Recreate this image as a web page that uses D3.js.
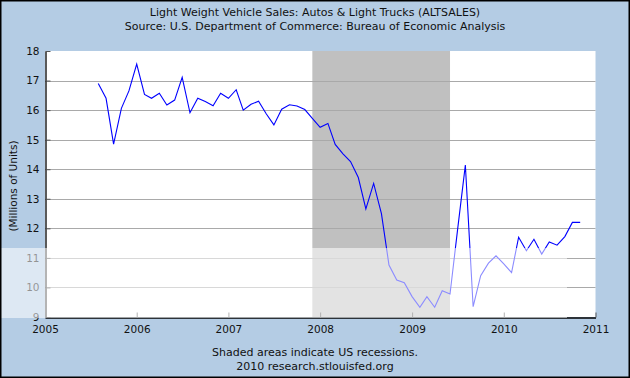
<!DOCTYPE html>
<html>
<head>
<meta charset="utf-8">
<script src="https://cdn.jsdelivr.net/npm/d3@7"></script>
<style>
  html, body { margin: 0; padding: 0; background: #fff; }
  svg { display: block; }
  text { font-family: "DejaVu Sans", Verdana, sans-serif; fill: #111; }
</style>
</head>
<body>
<svg id="chart" width="630" height="378"></svg>
<script>
// ---- data ----
const startMonth = "2005-08";
const values = [
  16.9, 16.4, 14.85, 16.06, 16.65,                                  // Aug-Dec 2005
  17.56, 16.53, 16.4, 16.57, 16.17, 16.34, 17.11, 15.91, 16.4, 16.29, 16.15, 16.57, // 2006
  16.4, 16.69, 16.0, 16.2, 16.3, 15.87, 15.5, 16.03, 16.18, 16.14, 16.02, 15.72,    // 2007
  15.42, 15.55, 14.84, 14.52, 14.26, 13.72, 12.66, 13.52, 12.5, 10.76, 10.25, 10.16, // 2008
  9.69, 9.33, 9.69, 9.33, 9.89, 9.78, 11.95, 14.14, 9.35, 10.4, 10.82, 11.07,       // 2009
  10.8, 10.5, 11.7, 11.24, 11.63, 11.13, 11.54, 11.43, 11.72, 12.2, 12.2           // Jan-Nov 2010
];
const yTicks = [9, 10, 11, 12, 13, 14, 15, 16, 17, 18];
const xTickYears = [2005, 2006, 2007, 2008, 2009, 2010, 2011];
const recessions = [["2007-12-01", "2009-06-01"]];
const titleLines = [
  "Light Weight Vehicle Sales: Autos & Light Trucks (ALTSALES)",
  "Source: U.S. Department of Commerce: Bureau of Economic Analysis"
];
const yLabel = "(Millions of Units)";
const footLines = ["Shaded areas indicate US recessions.", "2010 research.stlouisfed.org"];

// ---- build ----
const parseMonth = d3.timeParse("%Y-%m");
const t0 = parseMonth(startMonth);
const data = values.map((v, i) => ({ date: d3.timeMonth.offset(t0, i), value: v }));

const W = 630, H = 378;
const plot = { left: 45, right: 595.5, top: 51, bottom: 317 };

const svg = d3.select("#chart");
svg.append("rect").attr("x", 0).attr("y", 0).attr("width", W).attr("height", H)
  .attr("fill", "#b4cce4");

const x = d3.scaleTime()
  .domain([new Date(2005, 0, 1), new Date(2011, 0, 1)])
  .range([plot.left, plot.right]);
const y = d3.scaleLinear().domain([9, 18]).range([plot.bottom, plot.top]);

// plot background
svg.append("rect")
  .attr("x", plot.left).attr("y", plot.top)
  .attr("width", plot.right - plot.left).attr("height", plot.bottom - plot.top)
  .attr("fill", "#ffffff");

// recession shading
svg.append("g").selectAll("rect").data(recessions).join("rect")
  .attr("x", d => x(new Date(d[0])))
  .attr("width", d => x(new Date(d[1])) - x(new Date(d[0])))
  .attr("y", plot.top).attr("height", plot.bottom - plot.top)
  .attr("fill", "#c0c0c0");

// gridlines
svg.append("g").selectAll("line").data(yTicks.filter(v => v > 9 && v < 18)).join("line")
  .attr("x1", plot.left).attr("x2", plot.right)
  .attr("y1", d => Math.round(y(d)) + 0.5).attr("y2", d => Math.round(y(d)) + 0.5)
  .attr("stroke", "#a9a9a9").attr("stroke-width", 1);

// data line
const line = d3.line().x(d => x(d.date)).y(d => y(d.value));
svg.append("path").datum(data)
  .attr("d", line)
  .attr("fill", "none")
  .attr("stroke", "#0000ff")
  .attr("stroke-width", 1.1);

// axes
const yAxis = d3.axisLeft(y).tickValues(yTicks).tickFormat(d3.format("d"))
  .tickSizeInner(-5).tickSizeOuter(0).tickPadding(6);
const gy = svg.append("g").attr("transform", `translate(${plot.left + 0.5},0)`).call(yAxis);

const xAxis = d3.axisBottom(x)
  .tickValues(xTickYears.map(yr => new Date(yr, 0, 1)))
  .tickFormat(d3.timeFormat("%Y"))
  .tickSizeInner(-5).tickSizeOuter(0).tickPadding(8);
const gx = svg.append("g").attr("transform", `translate(0,${plot.bottom + 0.5})`).call(xAxis);

[gx, gy].forEach(g => {
  g.selectAll(".domain").attr("stroke", "#000").attr("stroke-width", 1.3);
  g.selectAll(".tick line").attr("stroke", "#555");
  g.selectAll("text").attr("font-size", "10.5px").attr("fill", "#111")
    .attr("font-family", "DejaVu Sans, sans-serif");
});

// watermark-like light band (from reference image)
svg.append("rect").attr("x", 0).attr("y", 248).attr("width", 567).attr("height", 70)
  .attr("fill", "#ffffff").attr("opacity", 0.55);

// y label
svg.append("text")
  .attr("transform", `translate(17,${(plot.top + plot.bottom) / 2 + 2}) rotate(-90)`)
  .attr("text-anchor", "middle")
  .attr("font-size", "10.5px")
  .text(yLabel);

// titles
svg.append("g").selectAll("text").data(titleLines).join("text")
  .attr("x", 315).attr("y", (d, i) => 16 + i * 13.5)
  .attr("text-anchor", "middle").attr("font-size", "11px")
  .text(d => d);

// footer
svg.append("g").selectAll("text").data(footLines).join("text")
  .attr("x", 315).attr("y", (d, i) => 356 + i * 13.5)
  .attr("text-anchor", "middle").attr("font-size", "11px")
  .text(d => d);

// outer border
svg.append("rect").attr("x", 0.75).attr("y", 0.75).attr("width", W - 1.5).attr("height", H - 1.5)
  .attr("fill", "none").attr("stroke", "#000").attr("stroke-width", 1.5);
</script>
</body>
</html>
